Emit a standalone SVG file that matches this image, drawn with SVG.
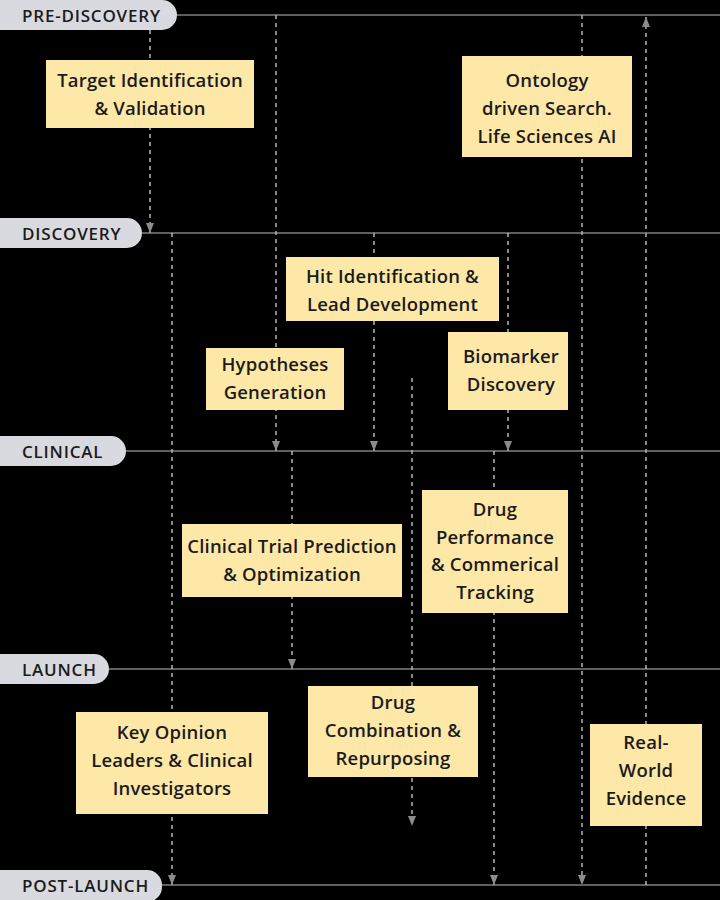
<svg xmlns="http://www.w3.org/2000/svg" width="720" height="900" viewBox="0 0 720 900">
<defs>
<style>
.bg{fill:#000}
.stage-line{stroke:#bdbdbd;stroke-width:1.2}
.pill{fill:#d9dadf}
.pill-text{font-family:"Open Sans",Lato,"DejaVu Sans",sans-serif;font-weight:600;font-size:17px;letter-spacing:0.8px;fill:#1b1b1b}
.conn{stroke:#b5b5b5;stroke-width:1.5;stroke-dasharray:4 4;fill:none}
.box{fill:#fde8a8}
.label{font-family:"Open Sans",Lato,"DejaVu Sans",sans-serif;font-weight:600;font-size:18.5px;letter-spacing:0.2px;fill:#1b1b1b;text-anchor:middle}
</style>
<marker id="arr" viewBox="0 0 10 8" refX="10" refY="4" markerWidth="10" markerHeight="8" markerUnits="userSpaceOnUse" orient="auto">
<path d="M0,0 L10,4 L0,8 Z" fill="#8c8c8c"/>
</marker>
</defs>
<rect class="bg" x="0" y="0" width="720" height="900"/>

<g id="stages">
<line class="stage-line" x1="0" y1="15" x2="720" y2="15"/>
<line class="stage-line" x1="0" y1="233" x2="720" y2="233"/>
<line class="stage-line" x1="0" y1="451" x2="720" y2="451"/>
<line class="stage-line" x1="0" y1="669" x2="720" y2="669"/>
<line class="stage-line" x1="0" y1="885" x2="720" y2="885"/>
</g>

<g id="connectors">
<line class="conn" x1="150" y1="30" x2="150" y2="233" marker-end="url(#arr)"/>
<line class="conn" x1="276" y1="15" x2="276" y2="451" marker-end="url(#arr)"/>
<line class="conn" x1="582" y1="15" x2="582" y2="885" marker-end="url(#arr)"/>
<line class="conn" x1="646" y1="885" x2="646" y2="17" marker-end="url(#arr)"/>
<line class="conn" x1="172" y1="233" x2="172" y2="885" marker-end="url(#arr)"/>
<line class="conn" x1="374" y1="233" x2="374" y2="451" marker-end="url(#arr)"/>
<line class="conn" x1="508" y1="233" x2="508" y2="451" marker-end="url(#arr)"/>
<line class="conn" x1="412" y1="378" x2="412" y2="826" marker-end="url(#arr)"/>
<line class="conn" x1="292" y1="451" x2="292" y2="669" marker-end="url(#arr)"/>
<line class="conn" x1="494" y1="451" x2="494" y2="885" marker-end="url(#arr)"/>
</g>

<g id="stage-pre-discovery">
<rect class="pill" x="-30" y="0" width="207" height="30" rx="15"/>
<text class="pill-text" x="22" y="21.5">PRE-DISCOVERY</text>
</g>
<g id="stage-discovery">
<rect class="pill" x="-30" y="218" width="172" height="30" rx="15"/>
<text class="pill-text" x="22" y="239.5">DISCOVERY</text>
</g>
<g id="stage-clinical">
<rect class="pill" x="-30" y="436" width="156" height="30" rx="15"/>
<text class="pill-text" x="22" y="457.5">CLINICAL</text>
</g>
<g id="stage-launch">
<rect class="pill" x="-30" y="654" width="139" height="30" rx="15"/>
<text class="pill-text" x="22" y="675.5">LAUNCH</text>
</g>
<g id="stage-post-launch">
<rect class="pill" x="-30" y="870" width="192" height="32" rx="15"/>
<text class="pill-text" x="22" y="891.5">POST-LAUNCH</text>
</g>

<g id="target-identification">
<rect class="box" x="46" y="60" width="208" height="68"/>
<text class="label" x="150" y="87">Target Identification</text>
<text class="label" x="150" y="115">&amp; Validation</text>
</g>
<g id="ontology-search">
<rect class="box" x="462" y="56" width="170" height="101"/>
<text class="label" x="547" y="87">Ontology</text>
<text class="label" x="547" y="115">driven Search.</text>
<text class="label" x="547" y="143">Life Sciences AI</text>
</g>
<g id="hit-identification">
<rect class="box" x="286" y="257" width="213" height="64"/>
<text class="label" x="392.5" y="283">Hit Identification &amp;</text>
<text class="label" x="392.5" y="311">Lead Development</text>
</g>
<g id="hypotheses-generation">
<rect class="box" x="206" y="348" width="138" height="62"/>
<text class="label" x="275" y="371">Hypotheses</text>
<text class="label" x="275" y="399">Generation</text>
</g>
<g id="biomarker-discovery">
<rect class="box" x="448" y="332" width="120" height="78"/>
<text class="label" x="511" y="363">Biomarker</text>
<text class="label" x="511" y="391">Discovery</text>
</g>
<g id="clinical-trial">
<rect class="box" x="182" y="524" width="220" height="73"/>
<text class="label" x="292" y="553">Clinical Trial Prediction</text>
<text class="label" x="292" y="581">&amp; Optimization</text>
</g>
<g id="drug-performance">
<rect class="box" x="422" y="490" width="146" height="123"/>
<text class="label" x="495" y="516">Drug</text>
<text class="label" x="495" y="544">Performance</text>
<text class="label" x="495" y="571">&amp; Commerical</text>
<text class="label" x="495" y="599">Tracking</text>
</g>
<g id="drug-combination">
<rect class="box" x="308" y="686" width="170" height="91"/>
<text class="label" x="393" y="709">Drug</text>
<text class="label" x="393" y="737">Combination &amp;</text>
<text class="label" x="393" y="765">Repurposing</text>
</g>
<g id="key-opinion-leaders">
<rect class="box" x="76" y="712" width="192" height="102"/>
<text class="label" x="172" y="739">Key Opinion</text>
<text class="label" x="172" y="767">Leaders &amp; Clinical</text>
<text class="label" x="172" y="795">Investigators</text>
</g>
<g id="real-world-evidence">
<rect class="box" x="590" y="724" width="112" height="102"/>
<text class="label" x="646" y="749">Real-</text>
<text class="label" x="646" y="777">World</text>
<text class="label" x="646" y="805">Evidence</text>
</g>
</svg>
